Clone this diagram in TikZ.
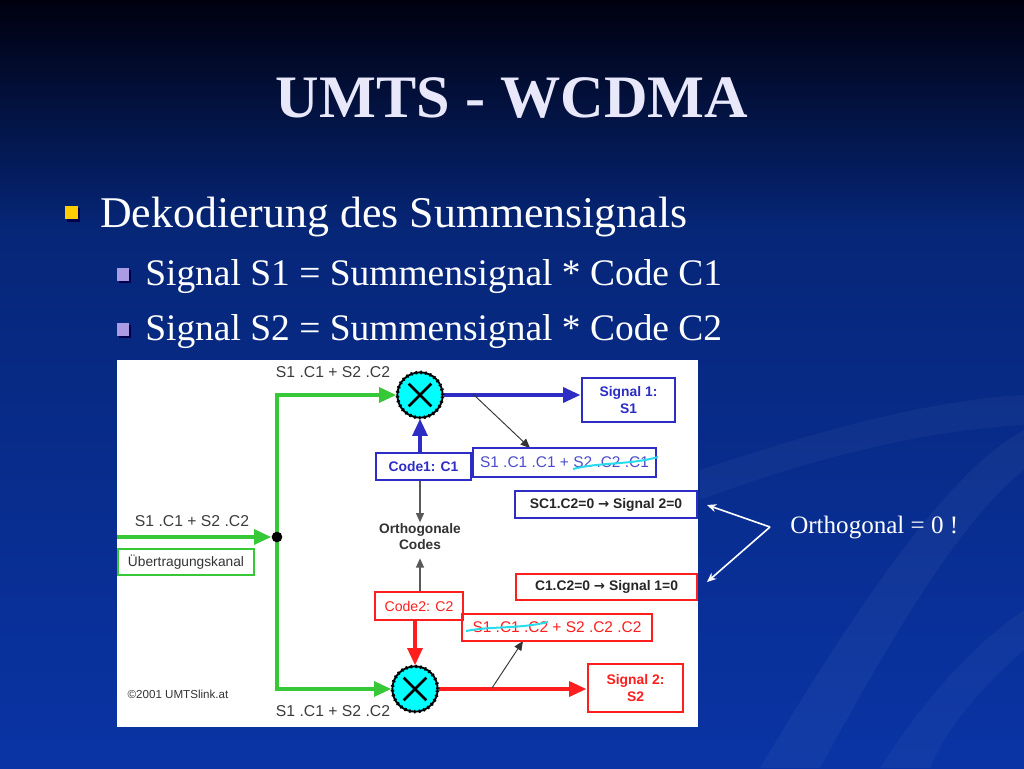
\documentclass[tikz,border=0pt]{standalone}
\usepackage{fontspec}
\setmainfont{Liberation Serif}
\newfontfamily\arial{Liberation Sans}
\newfontfamily\djv{DejaVu Sans}
\usetikzlibrary{arrows.meta}
\definecolor{bgtop}{RGB}{0,0,14}
\definecolor{bgmid}{RGB}{6,38,120}
\definecolor{bgbot}{RGB}{10,52,165}
\definecolor{titlec}{RGB}{232,232,250}
\definecolor{gr}{RGB}{55,200,55}
\definecolor{bl}{RGB}{45,45,195}
\definecolor{rd}{RGB}{255,30,30}
\definecolor{cy}{RGB}{0,255,255}
\definecolor{strike}{RGB}{40,220,235}
\definecolor{lilac}{RGB}{170,155,228}
\definecolor{ylw}{RGB}{255,204,0}
\definecolor{dgray}{RGB}{60,60,60}
\newcommand{\arr}{{\djv\bfseries\fontsize{10}{12}\selectfont →}}
\pgfdeclarelayer{bg}
\pgfdeclarelayer{lines}
\pgfsetlayers{bg,lines,main}
\tikzset{
  lbl/.style={font=\arial\fontsize{11.8}{14}\selectfont, text=dgray, inner sep=0},
  bx/.style={rectangle, inner sep=0, font=\arial\fontsize{10.4}{12.5}\selectfont\bfseries, align=center},
  bthick/.style={bx, draw=bl, line width=2.2pt, fill=white},
  rthick/.style={bx, draw=rd, line width=2.2pt, fill=white},
  mult/.style={circle, fill=cy, draw=black, line width=1.4pt, minimum size=34pt, inner sep=0,
    postaction={draw=black, line width=2.6pt, dash pattern=on 1.2pt off 2.4pt},
    path picture={\draw[black, line width=2pt]
      (path picture bounding box.center) +(-8.5pt,-8.5pt) -- +(8.5pt,8.5pt)
      (path picture bounding box.center) +(-8.5pt,8.5pt) -- +(8.5pt,-8.5pt);}},
  gline/.style={draw=gr, line width=3pt, -{Triangle[length=13pt,width=11pt]}},
  bline/.style={draw=bl, line width=3pt, -{Triangle[length=13pt,width=11pt]}},
  rline/.style={draw=rd, line width=3pt, -{Triangle[length=13pt,width=11pt]}},
  garr/.style={draw=gray!70!black, line width=1pt, -{Triangle[length=7pt,width=6pt]}},
  tarr/.style={draw=black!80, line width=0.7pt, -{Triangle[length=7pt,width=6pt]}},
  warr/.style={draw=white, line width=1.2pt, -{Stealth[length=7pt,width=6pt]}},
  body/.style={anchor=base west, inner sep=0, text=white}
}
\begin{document}
\begin{tikzpicture}[x=0.75pt,y=-0.75pt]
\useasboundingbox (0,0) rectangle (1024,768);
\begin{pgfonlayer}{bg}
% background
\shade[top color=bgtop, bottom color=bgmid] (0,0) rectangle (1024,230);
\shade[top color=bgmid, bottom color=bgbot] (0,230) rectangle (1024,768);
\fill[white, opacity=0.04] (760,768) .. controls (860,600) and (950,470) .. (1024,430) -- (1024,470) .. controls (960,520) and (890,640) .. (820,768) -- cycle;
\fill[white, opacity=0.035] (700,470) .. controls (820,430) and (930,400) .. (1024,395) -- (1024,425) .. controls (930,430) and (820,455) .. (700,500) -- cycle;
\fill[white, opacity=0.035] (880,768) .. controls (930,690) and (980,640) .. (1024,610) -- (1024,650) .. controls (990,680) and (950,720) .. (930,768) -- cycle;
% bullet squares
\fill[black!70!blue] (67,208) rectangle (80,222);
\fill[ylw] (65,206) rectangle (78,219);
\fill[black!70!blue] (119,270) rectangle (131,283);
\fill[lilac] (117,268) rectangle (129,281);
\fill[black!70!blue] (119,325) rectangle (131,338);
\fill[lilac] (117,323) rectangle (129,336);
% diagram panel
\fill[white] (117,360) rectangle (698,727);
\end{pgfonlayer}

% title
\node[anchor=base, inner sep=0, text=titlec, font=\fontsize{45.2}{54}\selectfont\bfseries] (title) at (512,117) {UMTS - WCDMA};

% bullets text
\node[body, font=\fontsize{32.9}{40}\selectfont] (b1) at (100,227.5) {Dekodierung des Summensignals};
\node[body, font=\fontsize{28.1}{34}\selectfont] (b2) at (145,285.5) {Signal S1 = Summensignal * Code C1};
\node[body, font=\fontsize{28.1}{34}\selectfont] (b3) at (145,340.5) {Signal S2 = Summensignal * Code C2};

% nodes
\node[circle, fill=black, minimum size=8pt, inner sep=0] (dot) at (277,537) {};
\node[mult] (m1) at (420,395) {};
\node[mult] (m2) at (415,689) {};
\node[bthick, minimum width=69.75pt, minimum height=33pt, text=bl] (sig1) at (628.5,400) {Signal 1:\\S1};
\node[bthick, minimum width=71.25pt, minimum height=20.25pt, text=bl] (code1) at (423.5,466.5) {Code1: C1};
\node[bx, draw=bl, line width=1.8pt, minimum width=137.25pt, minimum height=21.75pt, text=bl!85!white, font=\arial\fontsize{11.6}{14}\selectfont] (s1c1) at (564.5,462.5) {S1 .C1 .C1 + S2 .C2 .C1};
\node[bx, draw=bl, line width=1pt, minimum width=136.5pt, minimum height=20.25pt, text=black!85] (sc1) at (606,504.5) {SC1.C2=0 \arr{} Signal 2=0};
\node[bx, text=black!80, font=\arial\fontsize{10.3}{12}\selectfont\bfseries, inner sep=1pt] (ortho) at (420,537) {Orthogonale\\Codes};
\node[bx, draw=rd, line width=1pt, minimum width=135.75pt, minimum height=19.5pt, text=black!85] (c1c2) at (606.5,587) {C1.C2=0 \arr{} Signal 1=0};
\node[rthick, minimum width=66pt, minimum height=21pt, text=rd, font=\arial\fontsize{10.6}{12.5}\selectfont] (code2) at (419,606) {Code2: C2};
\node[bx, draw=rd, line width=1.8pt, minimum width=142.5pt, minimum height=20.25pt, text=rd, font=\arial\fontsize{11.6}{14}\selectfont] (s1c1c2) at (557,627.5) {S1 .C1 .C2 + S2 .C2 .C2};
\node[rthick, minimum width=71.25pt, minimum height=36pt, text=rd] (sig2) at (635.5,688) {Signal 2:\\S2};
\node[bx, draw=gr, line width=1.6pt, minimum width=102pt, minimum height=19.5pt, text=black!80, font=\arial\fontsize{10.3}{12}\selectfont] (ubk) at (186,562) {Übertragungskanal};

% labels
\node[lbl] (l0) at (192,521) {S1 .C1 + S2 .C2};
\node[lbl] (l1) at (333,372) {S1 .C1 + S2 .C2};
\node[lbl] (l2) at (333,711) {S1 .C1 + S2 .C2};
\node[font=\arial\fontsize{8.7}{10}\selectfont, text=black!80, inner sep=0] (copy) at (178,694) {©2001 UMTSlink.at};

\begin{pgfonlayer}{lines}
% green connectors
\coordinate (inL) at (117,537);
\draw[gline] (inL) -- (dot.west);
\draw[gline] (dot.center) |- (m1.west);
\draw[gline] (dot.center) |- (m2.west);
% blue / red connectors
\draw[bline] (m1.east) -- (m1.east -| sig1.west);
\draw[bline] (code1.north -| m1) -- (m1.south);
\draw[rline] (m2.east) -- (m2.east -| sig2.west);
\draw[rline] (code2.south -| m2) -- (m2.north);
% gray arrows to orthogonal codes
\draw[garr] (code1.south -| ortho) -- (ortho.north);
\draw[garr] (code2.north -| ortho) -- ([yshift=-5pt]ortho.south);
% thin black arrows
\coordinate (t1s) at (473,394);
\coordinate (t1e) at (530,448);
\draw[tarr] (t1s) -- (t1e);
\coordinate (t2s) at (492,688);
\coordinate (t2e) at (523,641);
\draw[tarr] (t2s) -- (t2e);
\end{pgfonlayer}

% cyan strike-throughs
\draw[strike, line width=1.5pt] (573,469) .. controls (600,462) and (630,465) .. (658,457);
\draw[strike, line width=1.5pt] (466,631) .. controls (490,626) and (520,629) .. (548,622);

% orthogonal callout
\coordinate (ov) at (770,527);
\coordinate (oa) at (707,505);
\coordinate (ob) at (707,582);
\draw[warr] (ov) -- (oa);
\draw[warr] (ov) -- (ob);
\node[anchor=west, inner sep=0, text=white, font=\fontsize{18.8}{22}\selectfont] (ot) at (790,527) {Orthogonal = 0 !};
\end{tikzpicture}
\end{document}
